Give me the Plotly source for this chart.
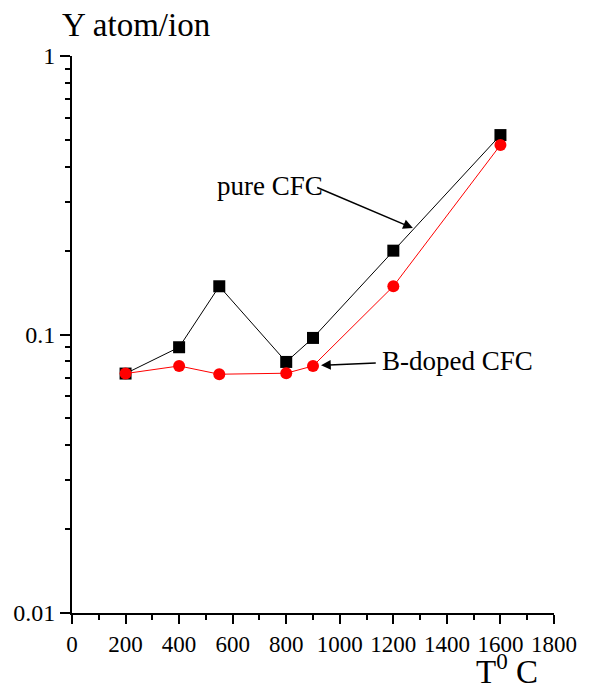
import plotly.graph_objects as go
import math

temps_pure = [200, 400, 550, 800, 900, 1200, 1600]
yield_pure = [0.0724, 0.090, 0.149, 0.0797, 0.0972, 0.200, 0.520]
temps_bdoped = [200, 400, 550, 800, 900, 1200, 1600]
yield_bdoped = [0.0724, 0.0771, 0.0720, 0.0726, 0.0771, 0.149, 0.479]
x_ticks = [0, 200, 400, 600, 800, 1000, 1200, 1400, 1600, 1800]
y_ticks = [0.01, 0.1, 1]
y_tick_labels = ["0.01", "0.1", "1"]
y_minor = [m * d for d in (0.01, 0.1) for m in range(2, 10)]

FONT = "Liberation Serif, Times New Roman, serif"

fig = go.Figure()
# invisible helper trace so the minor-tick axis is drawn
fig.add_trace(go.Scatter(
    x=temps_bdoped, y=yield_bdoped, yaxis="y2", mode="markers",
    marker=dict(opacity=0), hoverinfo="skip", showlegend=False,
))
fig.add_trace(go.Scatter(
    x=temps_pure, y=yield_pure, mode="lines+markers", name="pure CFC",
    line=dict(color="black", width=1),
    marker=dict(symbol="square", size=12, color="black"),
))
fig.add_trace(go.Scatter(
    x=temps_bdoped, y=yield_bdoped, mode="lines+markers", name="B-doped CFC",
    line=dict(color="red", width=1),
    marker=dict(symbol="circle", size=12, color="red"),
))

annotations = [
    dict(x=1273, y=math.log10(0.241), ax=910, ay=math.log10(0.339),
         xref="x", yref="y", axref="x", ayref="y", text="", showarrow=True,
         arrowhead=2, arrowsize=1.3, arrowwidth=1.5, arrowcolor="black"),
    dict(x=930, y=math.log10(0.0775), ax=1140, ay=math.log10(0.0790),
         xref="x", yref="y", axref="x", ayref="y", text="", showarrow=True,
         arrowhead=2, arrowsize=1.3, arrowwidth=1.5, arrowcolor="black"),
    dict(x=738, y=math.log10(0.342), xref="x", yref="y", text="pure CFC",
         showarrow=False, xanchor="center", yanchor="middle",
         font=dict(family=FONT, size=27, color="black")),
    dict(x=1440, y=math.log10(0.0803), xref="x", yref="y", text="B-doped CFC",
         showarrow=False, xanchor="center", yanchor="middle",
         font=dict(family=FONT, size=27, color="black")),
    dict(x=-0.024, y=1.056, xref="paper", yref="paper", text="Y atom/ion",
         showarrow=False, xanchor="left", yanchor="middle",
         font=dict(family=FONT, size=33, color="black")),
    dict(x=0.833, y=(613 - 692) / 557, xref="paper", yref="paper", text="T<sup>0</sup> C",
         showarrow=False, xanchor="left", yanchor="bottom",
         font=dict(family=FONT, size=33, color="black")),
]

fig.update_layout(
    width=589, height=693,
    margin=dict(l=71.5, r=32, t=56, b=80),
    paper_bgcolor="white", plot_bgcolor="white",
    showlegend=False,
    font=dict(family=FONT, size=24, color="black"),
    annotations=annotations,
    xaxis=dict(
        range=[0, 1800], tickvals=x_ticks, ticktext=[str(v) for v in x_ticks],
        showgrid=False, zeroline=False, showline=True, linecolor="black", linewidth=2,
        ticks="outside", ticklen=9, tickwidth=2, tickcolor="black",
        minor=dict(dtick=100, ticks="outside", ticklen=5, tickwidth=2, tickcolor="black", showgrid=False),
        tickfont=dict(family=FONT, size=23, color="black"),
    ),
    yaxis=dict(
        type="log", range=[-2, 0], tickvals=y_ticks, ticktext=y_tick_labels,
        showgrid=False, zeroline=False, showline=True, linecolor="black", linewidth=2,
        ticks="outside", ticklen=10, tickwidth=2, tickcolor="black",
        tickfont=dict(family=FONT, size=24, color="black"),
    ),
    yaxis2=dict(
        type="log", range=[-2, 0], overlaying="y", side="left",
        tickvals=y_minor, showticklabels=False,
        showgrid=False, zeroline=False, showline=False,
        ticks="outside", ticklen=6, tickwidth=2, tickcolor="black",
    ),
)

fig.write_html("out.html")
